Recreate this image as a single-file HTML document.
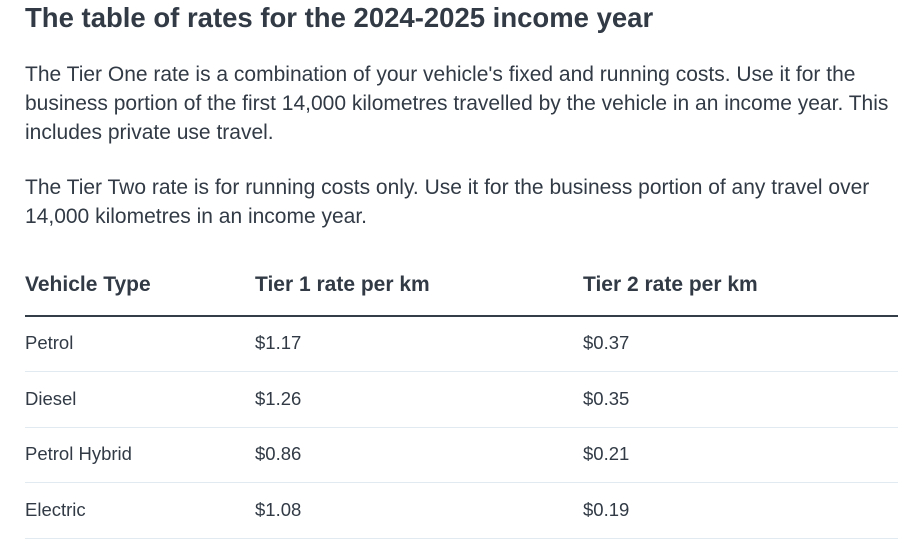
<!DOCTYPE html>
<html><head><meta charset="utf-8"><style>
body{margin:0;width:902px;height:547px;background:#fff;font-family:"Liberation Sans",sans-serif;color:#313a45;position:relative;overflow:hidden}
.a{position:absolute;white-space:nowrap}
h1{position:absolute;left:25px;top:2px;margin:0;font-size:27.5px;font-weight:bold;color:#313a45;letter-spacing:0}
.p{position:absolute;left:25px;font-size:21px;line-height:29px;color:#313a45;letter-spacing:0}
.th{font-size:21px;font-weight:bold}
.td{font-size:18.5px}
.hl{position:absolute;left:25px;width:873px}
</style></head><body>
<h1>The table of rates for the 2024-2025 income year</h1>
<div class="p" style="top:60px">The Tier One rate is a combination of your vehicle's fixed and running costs. Use it for the<br>business portion of the first 14,000 kilometres travelled by the vehicle in an income year. This<br>includes private use travel.</div>
<div class="p" style="top:173px">The Tier Two rate is for running costs only. Use it for the business portion of any travel over<br>14,000 kilometres in an income year.</div>
<div>
<div class="a th" style="left:25px;top:273px">Vehicle Type</div>
<div class="a th" style="left:255px;top:273px">Tier 1 rate per km</div>
<div class="a th" style="left:583px;top:273px">Tier 2 rate per km</div>
<div class="hl" style="top:315px;height:2px;background:#333e48"></div>
<div id="rows"></div>
</div>
<script>
var types=["Petrol","Diesel","Petrol Hybrid","Electric"];
var tier1=["$1.17","$1.26","$0.86","$1.08"];
var tier2=["$0.37","$0.35","$0.21","$0.19"];
var rows=document.getElementById('rows');
types.forEach(function(t,i){
  var y=333+i*55.5;
  var cells=[[t,25,'cell-type'],[tier1[i],255,'cell-tier1'],[tier2[i],583,'cell-tier2']];
  cells.forEach(function(c){
    var d=document.createElement('div');
    d.className='a td';d.style.left=c[1]+'px';d.style.top=(y-1)+'px';d.textContent=c[0];
    
    
    rows.appendChild(d);
  });
  var l=document.createElement('div');
  l.className='hl';l.style.top=(y+38)+'px';l.style.height='1px';l.style.background='#e2eaf1';
  
  
  rows.appendChild(l);
});
</script>
</body></html>
